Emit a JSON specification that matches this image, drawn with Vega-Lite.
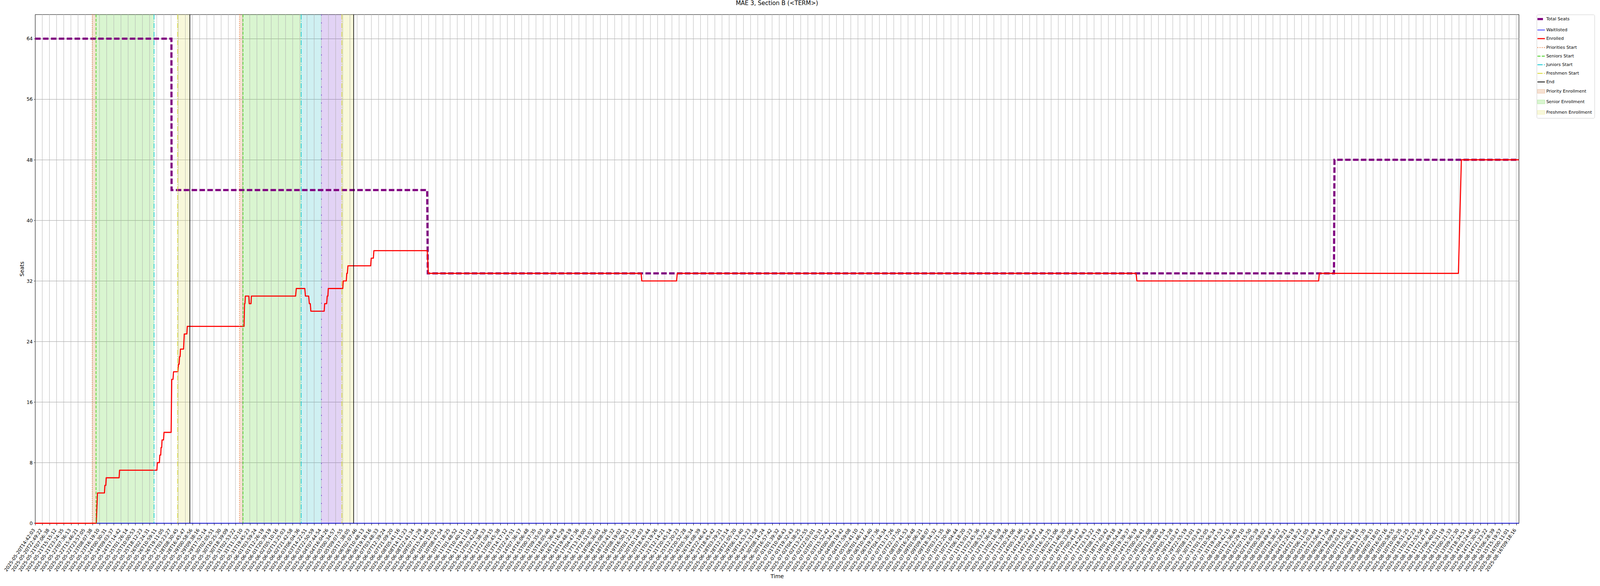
{
  "$schema": "https://vega.github.io/schema/vega-lite/v6.json",
  "title": {
    "text": "MAE 3, Section B (<TERM>)",
    "font": "DejaVu Sans",
    "fontSize": 15,
    "fontWeight": "normal",
    "color": "#000000",
    "anchor": "middle",
    "baseline": "bottom",
    "offset": 4.7
  },
  "width": 3798.2,
  "height": 1302.4,
  "autosize": {"type": "none"},
  "padding": {"left": 89.9, "top": 36.9, "right": 208, "bottom": 160.7},
  "background": "#ffffff",
  "config": {
    "font": "DejaVu Sans",
    "view": {"stroke": "#000000", "strokeWidth": 1.1},
    "axis": {
      "labelFont": "DejaVu Sans",
      "labelColor": "#000000",
      "titleFont": "DejaVu Sans",
      "titleFontSize": 13.9,
      "titleFontWeight": "normal",
      "titleColor": "#000000",
      "tickColor": "#000000",
      "tickWidth": 1,
      "domainColor": "#000000",
      "domainWidth": 1.1,
      "gridColor": "#b0b0b0",
      "gridWidth": 1.1,
      "gridOpacity": 1
    }
  },
  "datasets": {
    "ticks": [
      {"u": 0, "t": "2025-05-20T14:42:03"}, {"u": 1, "t": "2025-05-20T22:49:22"}, {"u": 2, "t": "2025-05-21T07:06:38"},
      {"u": 3, "t": "2025-05-21T15:15:12"}, {"u": 4, "t": "2025-05-21T23:24:35"}, {"u": 5, "t": "2025-05-22T07:36:13"},
      {"u": 6, "t": "2025-05-22T15:46:21"}, {"u": 7, "t": "2025-05-22T23:57:05"}, {"u": 8, "t": "2025-05-23T08:07:38"},
      {"u": 9, "t": "2025-05-23T16:19:10"}, {"u": 10, "t": "2025-05-24T00:30:31"}, {"u": 11, "t": "2025-05-24T09:03:37"},
      {"u": 12, "t": "2025-05-24T17:14:42"}, {"u": 13, "t": "2025-05-25T01:26:14"}, {"u": 14, "t": "2025-05-25T10:00:53"},
      {"u": 15, "t": "2025-05-25T18:12:23"}, {"u": 16, "t": "2025-05-26T02:24:31"}, {"u": 17, "t": "2025-05-26T10:59:11"},
      {"u": 18, "t": "2025-05-26T19:11:05"}, {"u": 19, "t": "2025-05-27T03:23:27"}, {"u": 20, "t": "2025-05-28T08:30:45"},
      {"u": 21, "t": "2025-05-28T16:45:47"}, {"u": 22, "t": "2025-05-29T00:58:56"}, {"u": 23, "t": "2025-05-29T09:38:16"},
      {"u": 24, "t": "2025-05-29T17:52:14"}, {"u": 25, "t": "2025-05-30T02:05:51"}, {"u": 26, "t": "2025-05-30T10:25:30"},
      {"u": 27, "t": "2025-05-30T18:39:09"}, {"u": 28, "t": "2025-05-31T02:53:22"}, {"u": 29, "t": "2025-05-31T11:32:10"},
      {"u": 30, "t": "2025-05-31T19:45:23"}, {"u": 31, "t": "2025-06-01T03:59:24"}, {"u": 32, "t": "2025-06-01T12:26:19"},
      {"u": 33, "t": "2025-06-01T20:39:19"}, {"u": 34, "t": "2025-06-02T05:10:16"}, {"u": 35, "t": "2025-06-02T13:25:03"},
      {"u": 36, "t": "2025-06-02T21:42:58"}, {"u": 37, "t": "2025-06-03T06:04:36"}, {"u": 38, "t": "2025-06-03T14:22:51"},
      {"u": 39, "t": "2025-06-03T22:50:59"}, {"u": 40, "t": "2025-06-04T07:44:54"}, {"u": 41, "t": "2025-06-04T16:04:26"},
      {"u": 42, "t": "2025-06-05T00:34:57"}, {"u": 43, "t": "2025-06-05T09:07:55"}, {"u": 44, "t": "2025-06-05T17:38:05"},
      {"u": 45, "t": "2025-06-06T02:07:46"}, {"u": 46, "t": "2025-06-06T10:48:13"}, {"u": 47, "t": "2025-06-06T19:18:16"},
      {"u": 48, "t": "2025-06-07T03:48:33"}, {"u": 49, "t": "2025-06-07T12:39:24"}, {"u": 50, "t": "2025-06-07T21:09:20"},
      {"u": 51, "t": "2025-06-08T05:41:16"}, {"u": 52, "t": "2025-06-08T14:11:23"}, {"u": 53, "t": "2025-06-08T22:41:34"},
      {"u": 54, "t": "2025-06-09T07:11:29"}, {"u": 55, "t": "2025-06-09T15:41:46"}, {"u": 56, "t": "2025-06-10T00:12:01"},
      {"u": 57, "t": "2025-06-10T08:47:54"}, {"u": 58, "t": "2025-06-10T17:18:25"}, {"u": 59, "t": "2025-06-11T01:48:52"},
      {"u": 60, "t": "2025-06-11T10:40:11"}, {"u": 61, "t": "2025-06-11T19:11:01"}, {"u": 62, "t": "2025-06-12T03:42:04"},
      {"u": 63, "t": "2025-06-12T12:38:33"}, {"u": 64, "t": "2025-06-12T21:09:15"}, {"u": 65, "t": "2025-06-13T05:45:38"},
      {"u": 66, "t": "2025-06-13T14:17:12"}, {"u": 67, "t": "2025-06-13T22:47:51"}, {"u": 68, "t": "2025-06-14T07:36:17"},
      {"u": 69, "t": "2025-06-14T16:06:48"}, {"u": 70, "t": "2025-06-15T00:37:35"}, {"u": 71, "t": "2025-06-15T09:35:03"},
      {"u": 72, "t": "2025-06-15T18:05:40"}, {"u": 73, "t": "2025-06-16T02:36:43"}, {"u": 74, "t": "2025-06-16T11:16:29"},
      {"u": 75, "t": "2025-06-16T19:48:19"}, {"u": 76, "t": "2025-06-17T04:47:36"}, {"u": 77, "t": "2025-06-17T13:19:00"},
      {"u": 78, "t": "2025-06-17T21:51:07"}, {"u": 79, "t": "2025-06-18T06:36:01"}, {"u": 80, "t": "2025-06-18T15:08:56"},
      {"u": 81, "t": "2025-06-18T23:41:32"}, {"u": 82, "t": "2025-06-19T08:19:02"}, {"u": 83, "t": "2025-06-19T16:50:11"},
      {"u": 84, "t": "2025-06-20T01:22:35"}, {"u": 85, "t": "2025-06-20T10:14:03"}, {"u": 86, "t": "2025-06-20T18:45:44"},
      {"u": 87, "t": "2025-06-21T03:19:26"}, {"u": 88, "t": "2025-06-21T12:14:21"}, {"u": 89, "t": "2025-06-21T20:45:14"},
      {"u": 90, "t": "2025-06-25T12:20:23"}, {"u": 91, "t": "2025-06-25T20:52:28"}, {"u": 92, "t": "2025-06-26T05:36:34"},
      {"u": 93, "t": "2025-06-26T14:08:39"}, {"u": 94, "t": "2025-06-26T22:46:42"}, {"u": 95, "t": "2025-06-27T18:45:42"},
      {"u": 96, "t": "2025-06-28T03:29:21"}, {"u": 97, "t": "2025-06-28T12:23:14"}, {"u": 98, "t": "2025-06-28T21:05:20"},
      {"u": 99, "t": "2025-06-29T06:13:40"}, {"u": 100, "t": "2025-06-29T14:53:23"}, {"u": 101, "t": "2025-06-29T23:31:58"},
      {"u": 102, "t": "2025-06-30T08:14:24"}, {"u": 103, "t": "2025-06-30T16:57:42"}, {"u": 104, "t": "2025-07-01T01:39:32"},
      {"u": 105, "t": "2025-07-01T10:48:43"}, {"u": 106, "t": "2025-07-01T19:32:43"}, {"u": 107, "t": "2025-07-02T04:38:25"},
      {"u": 108, "t": "2025-07-02T13:22:55"}, {"u": 109, "t": "2025-07-02T22:03:01"}, {"u": 110, "t": "2025-07-03T07:10:31"},
      {"u": 111, "t": "2025-07-03T15:52:42"}, {"u": 112, "t": "2025-07-04T00:34:21"}, {"u": 113, "t": "2025-07-04T09:19:42"},
      {"u": 114, "t": "2025-07-04T17:59:08"}, {"u": 115, "t": "2025-07-05T02:41:10"}, {"u": 116, "t": "2025-07-06T01:46:17"},
      {"u": 117, "t": "2025-07-06T10:44:40"}, {"u": 118, "t": "2025-07-06T19:27:36"}, {"u": 119, "t": "2025-07-07T04:34:34"},
      {"u": 120, "t": "2025-07-07T13:17:26"}, {"u": 121, "t": "2025-07-07T22:37:50"}, {"u": 122, "t": "2025-07-08T07:41:53"},
      {"u": 123, "t": "2025-07-08T16:26:48"}, {"u": 124, "t": "2025-07-09T01:06:21"}, {"u": 125, "t": "2025-07-09T09:48:07"},
      {"u": 126, "t": "2025-07-09T18:34:32"}, {"u": 127, "t": "2025-07-10T03:21:35"}, {"u": 128, "t": "2025-07-10T12:20:46"},
      {"u": 129, "t": "2025-07-10T21:04:44"}, {"u": 130, "t": "2025-07-11T06:18:20"}, {"u": 131, "t": "2025-07-11T15:01:23"},
      {"u": 132, "t": "2025-07-11T23:45:36"}, {"u": 133, "t": "2025-07-12T08:53:22"}, {"u": 134, "t": "2025-07-12T17:36:01"},
      {"u": 135, "t": "2025-07-13T02:18:39"}, {"u": 136, "t": "2025-07-13T11:39:56"}, {"u": 137, "t": "2025-07-13T20:24:06"},
      {"u": 138, "t": "2025-07-14T05:21:46"}, {"u": 139, "t": "2025-07-14T14:05:12"}, {"u": 140, "t": "2025-07-14T22:48:47"},
      {"u": 141, "t": "2025-07-15T07:47:44"}, {"u": 142, "t": "2025-07-15T16:31:25"}, {"u": 143, "t": "2025-07-16T02:51:06"},
      {"u": 144, "t": "2025-07-16T11:46:30"}, {"u": 145, "t": "2025-07-16T20:33:06"}, {"u": 146, "t": "2025-07-17T05:41:47"},
      {"u": 147, "t": "2025-07-17T14:28:43"}, {"u": 148, "t": "2025-07-17T23:13:22"}, {"u": 149, "t": "2025-07-18T08:17:19"},
      {"u": 150, "t": "2025-07-18T17:03:42"}, {"u": 151, "t": "2025-07-19T01:49:18"}, {"u": 152, "t": "2025-07-19T10:54:44"},
      {"u": 153, "t": "2025-07-19T19:39:37"}, {"u": 154, "t": "2025-07-24T15:36:19"}, {"u": 155, "t": "2025-07-25T00:26:41"},
      {"u": 156, "t": "2025-07-28T02:25:08"}, {"u": 157, "t": "2025-07-28T11:28:00"}, {"u": 158, "t": "2025-07-28T20:18:54"},
      {"u": 159, "t": "2025-07-29T05:13:28"}, {"u": 160, "t": "2025-07-29T14:03:47"}, {"u": 161, "t": "2025-07-29T22:55:19"},
      {"u": 162, "t": "2025-07-30T08:13:01"}, {"u": 163, "t": "2025-07-30T17:03:43"}, {"u": 164, "t": "2025-07-31T01:55:05"},
      {"u": 165, "t": "2025-07-31T10:56:34"}, {"u": 166, "t": "2025-07-31T19:47:53"}, {"u": 167, "t": "2025-08-01T04:42:15"},
      {"u": 168, "t": "2025-08-01T13:36:45"}, {"u": 169, "t": "2025-08-01T22:29:10"}, {"u": 170, "t": "2025-08-02T07:15:50"},
      {"u": 171, "t": "2025-08-02T16:05:39"}, {"u": 172, "t": "2025-08-03T00:58:02"}, {"u": 173, "t": "2025-08-03T09:49:47"},
      {"u": 174, "t": "2025-08-03T18:38:22"}, {"u": 175, "t": "2025-08-04T03:28:21"}, {"u": 176, "t": "2025-08-04T12:26:19"},
      {"u": 177, "t": "2025-08-04T21:18:22"}, {"u": 178, "t": "2025-08-05T06:11:05"}, {"u": 179, "t": "2025-08-05T15:03:44"},
      {"u": 180, "t": "2025-08-05T23:56:41"}, {"u": 181, "t": "2025-08-06T09:17:04"}, {"u": 182, "t": "2025-08-06T18:09:45"},
      {"u": 183, "t": "2025-08-07T03:03:01"}, {"u": 184, "t": "2025-08-07T11:56:51"}, {"u": 185, "t": "2025-08-07T20:48:16"},
      {"u": 186, "t": "2025-08-08T13:17:35"}, {"u": 187, "t": "2025-08-08T22:08:15"}, {"u": 188, "t": "2025-08-09T07:18:01"},
      {"u": 189, "t": "2025-08-09T16:07:16"}, {"u": 190, "t": "2025-08-10T00:58:55"}, {"u": 191, "t": "2025-08-10T10:00:35"},
      {"u": 192, "t": "2025-08-10T18:51:25"}, {"u": 193, "t": "2025-08-11T03:42:23"}, {"u": 194, "t": "2025-08-11T12:55:56"},
      {"u": 195, "t": "2025-08-11T21:47:47"}, {"u": 196, "t": "2025-08-12T06:40:01"}, {"u": 197, "t": "2025-08-12T15:31:19"},
      {"u": 198, "t": "2025-08-13T00:21:33"}, {"u": 199, "t": "2025-08-13T09:22:30"}, {"u": 200, "t": "2025-08-13T18:34:51"},
      {"u": 201, "t": "2025-08-14T03:24:46"}, {"u": 202, "t": "2025-08-14T12:30:52"}, {"u": 203, "t": "2025-08-14T21:23:22"},
      {"u": 204, "t": "2025-08-15T06:28:39"}, {"u": 205, "t": "2025-08-15T15:19:57"}, {"u": 206, "t": "2025-08-16T00:11:01"},
      {"u": 207, "t": "2025-08-16T09:18:16"}
    ],
    "spans": [
      {"series": "Priority Enrollment", "u": 7.987, "u2": 8.509},
      {"series": "Senior Enrollment", "u": 8.509, "u2": 16.624},
      {"series": "Freshmen Enrollment", "u": 19.915, "u2": 21.628},
      {"series": "Priority Enrollment", "u": 28.562, "u2": 29.047},
      {"series": "Senior Enrollment", "u": 29.047, "u2": 37.184},
      {"series": "Junior Enrollment", "u": 37.184, "u2": 40.02},
      {"series": "Sophomore Enrollment", "u": 40.02, "u2": 42.875},
      {"series": "Freshmen Enrollment", "u": 42.875, "u2": 44.519}
    ],
    "events": [
      {"series": "Priorities Start", "u": 7.987},
      {"series": "Seniors Start", "u": 8.509},
      {"series": "Juniors Start", "u": 16.624},
      {"series": "Freshmen Start", "u": 19.915},
      {"series": "End", "u": 21.628},
      {"series": "Priorities Start", "u": 28.562},
      {"series": "Seniors Start", "u": 29.047},
      {"series": "Juniors Start", "u": 37.184},
      {"series": "Sophomores Start", "u": 40.02},
      {"series": "Freshmen Start", "u": 42.875},
      {"series": "End", "u": 44.519}
    ],
    "total": [
      {"series": "Total Seats", "u": 0, "v": 64},
      {"series": "Total Seats", "u": 19.05, "v": 64},
      {"series": "Total Seats", "u": 19.07, "v": 44},
      {"series": "Total Seats", "u": 54.8, "v": 44},
      {"series": "Total Seats", "u": 54.88, "v": 33},
      {"series": "Total Seats", "u": 181.53, "v": 33},
      {"series": "Total Seats", "u": 181.6, "v": 48},
      {"series": "Total Seats", "u": 207.36, "v": 48}
    ],
    "waitlist": [
      {"series": "Waitlisted", "u": 0, "v": 0},
      {"series": "Waitlisted", "u": 207.36, "v": 0}
    ],
    "enrolled": [
      {"series": "Enrolled", "u": 0, "v": 0},
      {"series": "Enrolled", "u": 8.547, "v": 0},
      {"series": "Enrolled", "u": 8.632, "v": 2},
      {"series": "Enrolled", "u": 8.722, "v": 4},
      {"series": "Enrolled", "u": 9.691, "v": 4},
      {"series": "Enrolled", "u": 9.751, "v": 5},
      {"series": "Enrolled", "u": 9.877, "v": 5},
      {"series": "Enrolled", "u": 9.937, "v": 6},
      {"series": "Enrolled", "u": 11.741, "v": 6},
      {"series": "Enrolled", "u": 11.801, "v": 7},
      {"series": "Enrolled", "u": 17.019, "v": 7},
      {"series": "Enrolled", "u": 17.082, "v": 8},
      {"series": "Enrolled", "u": 17.369, "v": 8},
      {"series": "Enrolled", "u": 17.429, "v": 9},
      {"series": "Enrolled", "u": 17.556, "v": 9},
      {"series": "Enrolled", "u": 17.604, "v": 10},
      {"series": "Enrolled", "u": 17.69, "v": 10},
      {"series": "Enrolled", "u": 17.742, "v": 11},
      {"series": "Enrolled", "u": 17.951, "v": 11},
      {"series": "Enrolled", "u": 18.014, "v": 12},
      {"series": "Enrolled", "u": 19.009, "v": 12},
      {"series": "Enrolled", "u": 19.095, "v": 19},
      {"series": "Enrolled", "u": 19.27, "v": 19},
      {"series": "Enrolled", "u": 19.345, "v": 20},
      {"series": "Enrolled", "u": 19.941, "v": 20},
      {"series": "Enrolled", "u": 20.038, "v": 21},
      {"series": "Enrolled", "u": 20.127, "v": 21},
      {"series": "Enrolled", "u": 20.187, "v": 22},
      {"series": "Enrolled", "u": 20.262, "v": 22},
      {"series": "Enrolled", "u": 20.314, "v": 23},
      {"series": "Enrolled", "u": 20.746, "v": 23},
      {"series": "Enrolled", "u": 20.847, "v": 25},
      {"series": "Enrolled", "u": 21.208, "v": 25},
      {"series": "Enrolled", "u": 21.268, "v": 26},
      {"series": "Enrolled", "u": 29.2, "v": 26},
      {"series": "Enrolled", "u": 29.27, "v": 29},
      {"series": "Enrolled", "u": 29.326, "v": 29},
      {"series": "Enrolled", "u": 29.382, "v": 30},
      {"series": "Enrolled", "u": 29.867, "v": 30},
      {"series": "Enrolled", "u": 29.922, "v": 29},
      {"series": "Enrolled", "u": 30.176, "v": 29},
      {"series": "Enrolled", "u": 30.228, "v": 30},
      {"series": "Enrolled", "u": 36.408, "v": 30},
      {"series": "Enrolled", "u": 36.501, "v": 31},
      {"series": "Enrolled", "u": 37.69, "v": 31},
      {"series": "Enrolled", "u": 37.78, "v": 30},
      {"series": "Enrolled", "u": 38.231, "v": 30},
      {"series": "Enrolled", "u": 38.324, "v": 29},
      {"series": "Enrolled", "u": 38.458, "v": 29},
      {"series": "Enrolled", "u": 38.54, "v": 28},
      {"series": "Enrolled", "u": 40.4, "v": 28},
      {"series": "Enrolled", "u": 40.471, "v": 29},
      {"series": "Enrolled", "u": 40.75, "v": 29},
      {"series": "Enrolled", "u": 40.825, "v": 30},
      {"series": "Enrolled", "u": 40.918, "v": 30},
      {"series": "Enrolled", "u": 40.974, "v": 31},
      {"series": "Enrolled", "u": 43.002, "v": 31},
      {"series": "Enrolled", "u": 43.061, "v": 32},
      {"series": "Enrolled", "u": 43.49, "v": 32},
      {"series": "Enrolled", "u": 43.561, "v": 33},
      {"series": "Enrolled", "u": 43.639, "v": 33},
      {"series": "Enrolled", "u": 43.725, "v": 34},
      {"series": "Enrolled", "u": 46.901, "v": 34},
      {"series": "Enrolled", "u": 46.975, "v": 35},
      {"series": "Enrolled", "u": 47.273, "v": 35},
      {"series": "Enrolled", "u": 47.348, "v": 36},
      {"series": "Enrolled", "u": 54.802, "v": 36},
      {"series": "Enrolled", "u": 54.951, "v": 33},
      {"series": "Enrolled", "u": 84.696, "v": 33},
      {"series": "Enrolled", "u": 84.789, "v": 32},
      {"series": "Enrolled", "u": 89.653, "v": 32},
      {"series": "Enrolled", "u": 89.746, "v": 33},
      {"series": "Enrolled", "u": 153.874, "v": 33},
      {"series": "Enrolled", "u": 153.986, "v": 32},
      {"series": "Enrolled", "u": 179.388, "v": 32},
      {"series": "Enrolled", "u": 179.481, "v": 33},
      {"series": "Enrolled", "u": 198.922, "v": 33},
      {"series": "Enrolled", "u": 199.333, "v": 48},
      {"series": "Enrolled", "u": 207.36, "v": 48}
    ]
  },
  "encoding": {
    "x": {
      "field": "u",
      "type": "quantitative",
      "scale": {"domain": [0, 207.36], "nice": false, "zero": false},
      "axis": {
        "title": "Time",
        "values": [0,1,2,3,4,5,6,7,8,9,10,11,12,13,14,15,16,17,18,19,20,21,22,23,24,25,26,27,28,29,30,31,32,33,34,35,36,37,38,39,40,41,42,43,44,45,46,47,48,49,50,51,52,53,54,55,56,57,58,59,60,61,62,63,64,65,66,67,68,69,70,71,72,73,74,75,76,77,78,79,80,81,82,83,84,85,86,87,88,89,90,91,92,93,94,95,96,97,98,99,100,101,102,103,104,105,106,107,108,109,110,111,112,113,114,115,116,117,118,119,120,121,122,123,124,125,126,127,128,129,130,131,132,133,134,135,136,137,138,139,140,141,142,143,144,145,146,147,148,149,150,151,152,153,154,155,156,157,158,159,160,161,162,163,164,165,166,167,168,169,170,171,172,173,174,175,176,177,178,179,180,181,182,183,184,185,186,187,188,189,190,191,192,193,194,195,196,197,198,199,200,201,202,203,204,205,206,207],
        "labelExpr": "data('ticks')[round(datum.value)] ? data('ticks')[round(datum.value)].t : ''",
        "labelAngle": -55.7,
        "labelAlign": "right",
        "labelBaseline": "middle",
        "labelFontSize": 11.9,
        "labelPadding": 9.8,
        "labelOffset": -3.4,
        "labelOverlap": false,
        "labelFlush": false,
        "labelBound": false,
        "tickSize": 4.9,
        "grid": false,
        "titlePadding": 4
      }
    },
    "color": {
      "field": "series",
      "type": "nominal",
      "scale": {
        "domain": ["Total Seats", "Waitlisted", "Enrolled", "Priorities Start", "Seniors Start", "Juniors Start", "Freshmen Start", "End", "Priority Enrollment", "Senior Enrollment", "Freshmen Enrollment", "Sophomores Start", "Junior Enrollment", "Sophomore Enrollment"],
        "range": ["#800080", "#0000ff", "#ff0000", "#e9702c", "#3ccc14", "#00c5cf", "#d8d82a", "#000000", "#d2691e", "#41cd14", "#dcdc46", "#6a2ad0", "#0fb4be", "#6e23cd"]
      },
      "legend": {
        "values": ["Total Seats", "Waitlisted", "Enrolled", "Priorities Start", "Seniors Start", "Juniors Start", "Freshmen Start", "End", "Priority Enrollment", "Senior Enrollment", "Freshmen Enrollment"],
        "title": null,
        "orient": "none",
        "legendX": 3844,
        "legendY": 0.4,
        "direction": "vertical",
        "symbolType": "stroke",
        "symbolSize": 361,
        "labelFont": "DejaVu Sans",
        "labelFontSize": 11,
        "labelColor": "#000000",
        "labelOffset": 7.5,
        "rowPadding": 10,
        "padding": 6,
        "strokeColor": "#cccccc",
        "fillColor": "rgba(255,255,255,0.8)",
        "cornerRadius": 3,
        "encode": {
          "symbols": {
            "update": {
              "shape": {"signal": "indexof(['Priority Enrollment','Senior Enrollment','Freshmen Enrollment'], datum.value) >= 0 ? 'M-1,-0.526H1V0.526H-1Z' : 'stroke'"},
              "fill": {"signal": "indexof(['Priority Enrollment','Senior Enrollment','Freshmen Enrollment'], datum.value) >= 0 ? scale('color', datum.value) : 'transparent'"},
              "fillOpacity": {"signal": "indexof(['Priority Enrollment','Senior Enrollment','Freshmen Enrollment'], datum.value) >= 0 ? 0.2 : 1"},
              "stroke": {"signal": "scale('color', datum.value)"},
              "strokeOpacity": {"signal": "indexof(['Priority Enrollment','Senior Enrollment','Freshmen Enrollment'], datum.value) >= 0 ? 0.2 : 1"},
              "strokeDash": {"signal": "scale('strokeDash', datum.value)"},
              "strokeWidth": {"signal": "datum.value === 'Total Seats' ? 5.5 : datum.value === 'Waitlisted' ? 1.4 : datum.value === 'Enrolled' ? 2.8 : indexof(['Priority Enrollment','Senior Enrollment','Freshmen Enrollment'], datum.value) >= 0 ? 1.4 : 2"}
            }
          }
        }
      }
    },
    "strokeDash": {
      "field": "series",
      "type": "nominal",
      "scale": {
        "domain": ["Total Seats", "Waitlisted", "Enrolled", "Priorities Start", "Seniors Start", "Juniors Start", "Freshmen Start", "End", "Priority Enrollment", "Senior Enrollment", "Freshmen Enrollment", "Sophomores Start", "Junior Enrollment", "Sophomore Enrollment"],
        "range": [[14.1, 6.1], [1, 0], [1, 0], [2.1, 3.4], [7.7, 3.3], [13.3, 3.3, 2.1, 3.3], [13.3, 3.3, 2.1, 3.3], [1, 0], [1, 0], [1, 0], [1, 0], [2.5, 18], [1, 0], [1, 0]]
      },
      "legend": null
    }
  },
  "layer": [
    {
      "data": {"name": "spans"},
      "mark": {"type": "rect", "fillOpacity": 0.2, "strokeWidth": 0},
      "encoding": {"x2": {"field": "u2"}}
    },
    {
      "data": {"name": "ticks"},
      "mark": {"type": "rule", "strokeWidth": 1},
      "encoding": {
        "color": {"value": "#b0b0b0"},
        "strokeDash": {"value": [1, 0]}
      }
    },
    {
      "data": {"name": "total"},
      "mark": {"type": "line", "strokeWidth": 5.56, "strokeCap": "butt"},
      "encoding": {
        "y": {
          "field": "v",
          "type": "quantitative",
          "scale": {"domain": [0, 67.2], "nice": false, "zero": true},
          "axis": {
            "title": "Seats",
            "values": [0, 8, 16, 24, 32, 40, 48, 56, 64],
            "grid": true,
            "tickSize": 3.3,
            "labelFontSize": 12.5,
            "labelPadding": 3.3,
            "titlePadding": 3.8
          }
        }
      }
    },
    {
      "data": {"name": "waitlist"},
      "mark": {"type": "line", "strokeWidth": 1.4},
      "encoding": {
        "y": {"field": "v", "type": "quantitative", "scale": {"domain": [0, 67.2], "nice": false, "zero": true}}
      }
    },
    {
      "data": {"name": "enrolled"},
      "mark": {"type": "line", "strokeWidth": 2.8, "strokeJoin": "round"},
      "encoding": {
        "y": {"field": "v", "type": "quantitative", "scale": {"domain": [0, 67.2], "nice": false, "zero": true}}
      }
    },
    {
      "data": {"name": "events"},
      "mark": {"type": "rule", "strokeWidth": 1.6},
      "encoding": {}
    }
  ]
}
